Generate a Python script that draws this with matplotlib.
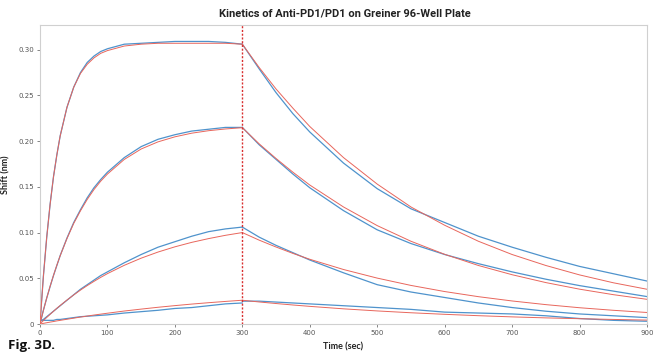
#!usr/bin/env python3
"""
Kinetics of Anti-PD1/PD1 binding (association + dissociation), measured vs fit
"""
import matplotlib
matplotlib.use("Agg")
import matplotlib.pyplot as plt

# sample times (sec)
t_assoc = [0, 5, 10, 15, 20, 25, 30, 40, 50, 60, 70, 80, 90, 100, 125, 150, 175, 200, 225,
           250, 275, 300]
t_dissoc = [300, 325, 350, 375, 400, 450, 500, 550, 600, 650, 700, 750, 800, 850, 900]

# measured shift (nm), association phase
meas_assoc_1 = [0, 0.052, 0.095, 0.131, 0.161, 0.185, 0.206, 0.237, 0.259, 0.275, 0.286, 0.293,
                0.298, 0.301, 0.306, 0.307, 0.308, 0.309, 0.309, 0.309, 0.308, 0.306]
meas_assoc_2 = [0, 0.015, 0.0285, 0.041, 0.053, 0.064, 0.075, 0.094, 0.111, 0.125, 0.138, 0.149,
                0.158, 0.166, 0.182, 0.194, 0.202, 0.207, 0.211, 0.213, 0.215, 0.215]
meas_assoc_3 = [0.003, 0.005, 0.008, 0.011, 0.014, 0.017, 0.020, 0.026, 0.032, 0.038, 0.043,
                0.048, 0.053, 0.057, 0.067, 0.076, 0.084, 0.090, 0.096, 0.101, 0.104, 0.106]
meas_assoc_4 = [0.004, 0.004, 0.004, 0.004, 0.004, 0.005, 0.005, 0.006, 0.007, 0.008, 0.0085,
                0.009, 0.0095, 0.010, 0.012, 0.0135, 0.015, 0.017, 0.018, 0.020, 0.022, 0.023]

# measured shift (nm), dissociation phase
meas_dissoc_1 = [0.306, 0.279, 0.253, 0.230, 0.210, 0.176, 0.148, 0.126, 0.111, 0.096, 0.084,
                 0.073, 0.063, 0.055, 0.047]
meas_dissoc_2 = [0.215, 0.196, 0.180, 0.164, 0.149, 0.124, 0.103, 0.088, 0.076, 0.066, 0.057,
                 0.049, 0.042, 0.036, 0.030]
meas_dissoc_3 = [0.106, 0.095, 0.086, 0.078, 0.070, 0.056, 0.043, 0.035, 0.029, 0.023, 0.018,
                 0.014, 0.011, 0.009, 0.007]
meas_dissoc_4 = [0.025, 0.025, 0.024, 0.023, 0.022, 0.020, 0.018, 0.016, 0.013, 0.012, 0.011,
                 0.009, 0.006, 0.004, 0.003]

# fitted curves, association phase
fit_assoc_1 = [0, 0.052, 0.095, 0.131, 0.161, 0.185, 0.206, 0.237, 0.259, 0.274, 0.284, 0.291,
               0.296, 0.299, 0.304, 0.306, 0.307, 0.307, 0.307, 0.307, 0.307, 0.306]
fit_assoc_2 = [0, 0.0147, 0.0285, 0.0413, 0.0532, 0.0644, 0.0748, 0.0935, 0.110, 0.1238, 0.1362,
               0.147, 0.1562, 0.164, 0.180, 0.1914, 0.1992, 0.2047, 0.2087, 0.2114, 0.2133,
               0.2147]
fit_assoc_3 = [0, 0.0037, 0.0072, 0.0106, 0.0139, 0.0172, 0.0203, 0.0262, 0.0318, 0.0371, 0.0420,
               0.0466, 0.0510, 0.0551, 0.0642, 0.0720, 0.0787, 0.0844, 0.0893, 0.0934, 0.0970,
               0.100]
fit_assoc_4 = [0, 0.0007, 0.0014, 0.0021, 0.0027, 0.0034, 0.0040, 0.0052, 0.0064, 0.0076, 0.0087,
               0.0098, 0.0108, 0.0118, 0.0142, 0.0163, 0.0183, 0.0201, 0.0218, 0.0233, 0.0247,
               0.026]

# fitted curves, dissociation phase
fit_dissoc_1 = [0.306, 0.2805, 0.257, 0.236, 0.216, 0.182, 0.153, 0.128, 0.108, 0.0905, 0.076,
                0.064, 0.0537, 0.0451, 0.038]
fit_dissoc_2 = [0.2147, 0.197, 0.181, 0.166, 0.152, 0.128, 0.1076, 0.0905, 0.0762, 0.0640, 0.0539,
                0.0453, 0.0381, 0.0321, 0.027]
fit_dissoc_3 = [0.100, 0.0917, 0.0842, 0.0772, 0.0708, 0.0596, 0.0502, 0.0422, 0.0355, 0.0299,
                0.0252, 0.0212, 0.0178, 0.0150, 0.0126]
fit_dissoc_4 = [0.026, 0.0241, 0.0224, 0.0208, 0.0193, 0.0166, 0.0143, 0.0123, 0.0106, 0.0091,
                0.0078, 0.0067, 0.0058, 0.0050, 0.0043]

x_ticks = [0, 100, 200, 300, 400, 500, 600, 700, 800, 900]
y_ticks = [0, 0.05, 0.10, 0.15, 0.20, 0.25, 0.30]
y_tick_labels = ["0", "0.05", "0.10", "0.15", "0.20", "0.25", "0.30"]

BLUE = "#4f93cc"
RED = "#e8665c"
GRID_GRAY = "#d0d0d0"


def main():
    fig = plt.figure(figsize=(6.6, 3.55), dpi=100)
    ax = fig.add_axes([0.0606, 0.0873, 0.9197, 0.8423])

    meas = [(meas_assoc_1, meas_dissoc_1), (meas_assoc_2, meas_dissoc_2),
            (meas_assoc_3, meas_dissoc_3), (meas_assoc_4, meas_dissoc_4)]
    fits = [(fit_assoc_1, fit_dissoc_1), (fit_assoc_2, fit_dissoc_2),
            (fit_assoc_3, fit_dissoc_3), (fit_assoc_4, fit_dissoc_4)]

    for assoc, dissoc in meas:
        ax.plot(t_assoc, assoc, color=BLUE, lw=0.9, zorder=2)
        ax.plot(t_dissoc, dissoc, color=BLUE, lw=0.9, zorder=2)
    for assoc, dissoc in fits:
        ax.plot(t_assoc, assoc, color=RED, lw=0.7, zorder=3)
        ax.plot(t_dissoc, dissoc, color=RED, lw=0.7, zorder=3)

    # switch from association to dissociation
    ax.axvline(300, color="#d93030", lw=1.0, ls=(0, (1.5, 1.2)), zorder=4)

    ax.set_xlim(0, 900)
    ax.set_ylim(0, 0.327)
    ax.set_xticks(x_ticks)
    ax.set_yticks(y_ticks)
    ax.set_yticklabels(y_tick_labels)
    ax.tick_params(labelsize=5, colors="#555555", length=2, width=0.5, pad=2)
    for spine in ax.spines.values():
        spine.set_color(GRID_GRAY)
        spine.set_linewidth(0.8)

    ax.set_xlabel("Time (sec)", fontsize=6.5, fontweight="bold", color="#222222",
                  family="Lato", labelpad=5)
    ax.set_ylabel("Shift (nm)", fontsize=6.5, fontweight="bold", color="#222222",
                  family="Lato", labelpad=6)
    fig.text(0.523, 0.963, "Kinetics of Anti-PD1/PD1 on Greiner 96-Well Plate", ha="center",
             va="center", fontsize=8, fontweight="bold", family="Roboto", color="#222222")
    fig.text(0.012, 0.028, "Fig. 3D.", ha="left", va="center", fontsize=9.5,
             fontweight="bold", family="Open Sans", color="#111111")

    plt.savefig("out.png", dpi=100)


if __name__ == "__main__":
    main()
